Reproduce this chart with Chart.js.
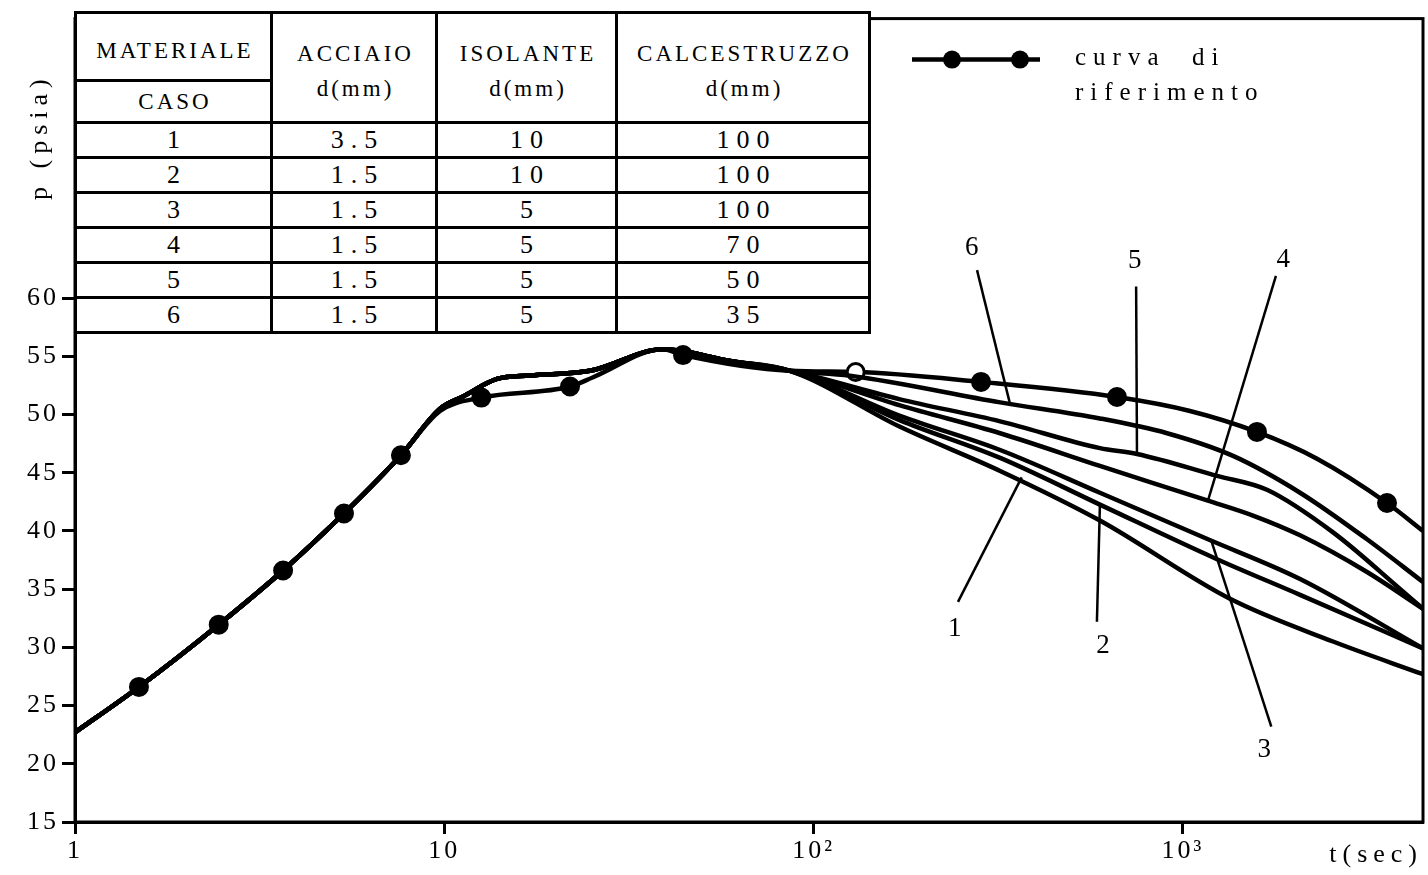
<!DOCTYPE html>
<html>
<head>
<meta charset="utf-8">
<script src="https://cdn.jsdelivr.net/npm/chart.js@4.4.1/dist/chart.umd.min.js"></script>
<style>
  body { margin: 0; background: #fff; }
  #wrap { position: relative; width: 1428px; height: 875px; }
  #caseTable {
    position: absolute; left: 74px; top: 11px;
    border-collapse: collapse; table-layout: fixed; background: #fff;
    font-family: "Liberation Serif", "DejaVu Serif", serif; color: #000;
  }
  #caseTable td {
    border: 3px solid #000; padding: 0 0 0 7px; text-align: center; vertical-align: middle;
    font-size: 26px; letter-spacing: 7px; line-height: 1; overflow: hidden;
  }
  #caseTable td.head { font-size: 23px; letter-spacing: 3px; padding-left: 3px; }
  #caseTable td.head2 { vertical-align: top; padding-top: 22px; line-height: 35px; }
</style>
</head>
<body>
<div id="wrap">
  <canvas id="myChart"></canvas>
  <table id="caseTable"></table>
</div>
<script>
// shared part of every curve (t in sec, p in psia)
const sharedT = [1, 1.49, 2.45, 3.66, 5.35, 7.63, 9.74, 11.24, 13.89, 17.07, 24.8, 39.1, 59.4, 86.3];
const sharedP = [22.7, 26.6, 31.95, 36.6, 41.5, 46.5, 50.5, 51.55, 53.05, 53.35, 53.75, 55.6, 54.6, 53.75];

// reference curve (with markers)
const refT = [1, 1.49, 2.45, 3.66, 5.35, 7.63, 9.74, 12.6, 21.9, 25.3, 39.1, 44.3, 86.3, 130, 284, 663, 1045, 1587, 2307, 3570, 4468];
const refP = [22.7, 26.6, 31.95, 36.6, 41.5, 46.5, 50.3, 51.45, 52.4, 53.2, 55.6, 55.1, 53.75, 53.65, 52.8, 51.5, 50.3, 48.5, 46.2, 42.4, 40.0];
const refMarked = [0, 1, 1, 1, 1, 1, 0, 1, 1, 0, 0, 1, 0, 1, 1, 1, 0, 1, 0, 1, 0];
const refOpen = [0, 0, 0, 0, 0, 0, 0, 0, 0, 0, 0, 0, 0, 1, 0, 0, 0, 0, 0, 0, 0];

// tails of the six cases after t = 86 s
const case1T = [171.4, 320, 596, 1341, 2550, 4468];
const case1P = [48.94, 45.15, 40.89, 34.17, 30.5, 27.69];
const case2T = [171.4, 320, 596, 1237, 2076, 4468];
const case2P = [49.5, 46.27, 42.26, 37.57, 34.51, 29.91];
const case3T = [171.4, 320, 596, 1169, 2076, 4468];
const case3P = [49.88, 46.95, 43.28, 39.28, 35.87, 29.91];
const case4T = [171.4, 320, 596, 1169, 1548, 2076, 3151, 4468];
const case4P = [50.78, 48.39, 45.58, 42.6, 41.32, 39.62, 36.47, 33.31];
const case5T = [171.4, 320, 596, 751, 1237, 1689, 2550, 3871, 4468];
const case5P = [51.3, 49.41, 47.11, 46.61, 44.73, 43.53, 39.87, 35.02, 33.31];
const case6T = [125.5, 320, 596, 906, 1367, 2076, 3151, 4468];
const case6P = [53.33, 51.04, 49.66, 48.39, 46.44, 43.28, 39.28, 35.61];

// table of the cases
const tableHeads = [['MATERIALE', 'CASO'], ['ACCIAIO', 'd(mm)'], ['ISOLANTE', 'd(mm)'], ['CALCESTRUZZO', 'd(mm)']];
const caseIds = ['1', '2', '3', '4', '5', '6'];
const steelMm = ['3.5', '1.5', '1.5', '1.5', '1.5', '1.5'];
const insulationMm = ['10', '10', '5', '5', '5', '5'];
const concreteMm = ['100', '100', '100', '70', '50', '35'];

// axes
const xTickValues = [1, 10, 100, 1000];
const xTickLabels = ['1', '10', '10²', '10³'];
const yTickValues = [15, 20, 25, 30, 35, 40, 45, 50, 55, 60];

// curve labels with leader lines (data coordinates)
const noteLabels = ['1', '2', '3', '4', '5', '6'];
const noteTextT = [241, 608, 1660, 1870, 741, 268];
const noteTextP = [31.6, 30.1, 21.2, 63.3, 63.2, 64.3];
const noteFromT = [246, 585, 1735, 1786, 747, 277];
const noteFromP = [33.9, 32.2, 23.2, 61.9, 61.0, 62.4];
const noteToT = [366, 596, 1190, 1169, 751, 340];
const noteToP = [44.6, 42.26, 39.3, 42.6, 46.6, 50.95];

const SERIF = '"Liberation Serif", "DejaVu Serif", serif';

// build the table
const tbl = document.getElementById('caseTable');
const colWidths = [196, 165, 180, 253];
const cg = document.createElement('colgroup');
colWidths.forEach(w => { const c = document.createElement('col'); c.style.width = w + 'px'; cg.appendChild(c); });
tbl.appendChild(cg);
let tr = tbl.insertRow();
tr.style.height = '68px';
let td = tr.insertCell(); td.className = 'head'; td.textContent = tableHeads[0][0]; td.style.paddingTop = '8px';
for (let k = 1; k < 4; k++) {
  td = tr.insertCell(); td.className = 'head head2'; td.rowSpan = 2;
  td.innerHTML = tableHeads[k][0] + '<br>' + tableHeads[k][1];
}
tr = tbl.insertRow(); tr.style.height = '42px';
td = tr.insertCell(); td.className = 'head'; td.textContent = tableHeads[0][1];
caseIds.forEach((id, i) => {
  const row = tbl.insertRow(); row.style.height = '35px';
  [id, steelMm[i], insulationMm[i], concreteMm[i]].forEach(v => { row.insertCell().textContent = v; });
});

const toPoints = (ts, ps) => ts.map((t, i) => ({ x: t, y: ps[i] }));
const lineStyle = { borderColor: '#000', borderWidth: 4.5, pointRadius: 0, cubicInterpolationMode: 'monotone', fill: false };

const caseTails = [[case1T, case1P], [case2T, case2P], [case3T, case3P], [case4T, case4P], [case5T, case5P], [case6T, case6P]];
const datasets = caseTails.map(([ts, ps], i) => Object.assign({
  label: 'caso ' + caseIds[i],
  data: toPoints(sharedT.concat(ts), sharedP.concat(ps))
}, lineStyle));
datasets.push(Object.assign({}, lineStyle, {
  label: 'curva di riferimento',
  data: toPoints(refT, refP),
  pointRadius: refMarked.map(m => m ? 8.5 : 0),
  pointBackgroundColor: refOpen.map(o => o ? '#fff' : '#000'),
  pointBorderColor: '#000',
  pointBorderWidth: 3
}));

// letter-spaced tick labels, like the typewritten original
const spacingPlugin = {
  id: 'spacing',
  beforeDraw(chart) { chart.ctx.letterSpacing = '3px'; },
  afterDatasetsDraw(chart) { chart.ctx.letterSpacing = '0px'; }
};

// frame, legend, labels and axis titles
const decorPlugin = {
  id: 'decor',
  afterDraw(chart) {
    const { ctx, chartArea: a, scales: { x, y } } = chart;
    ctx.save();
    ctx.strokeStyle = '#000';
    ctx.fillStyle = '#000';
    ctx.lineWidth = 3;
    ctx.strokeRect(a.left, a.top, a.right - a.left, a.bottom - a.top);

    // leader lines and case numbers
    ctx.lineWidth = 2.5;
    ctx.font = '27px ' + SERIF;
    ctx.textAlign = 'center';
    ctx.textBaseline = 'middle';
    noteLabels.forEach((lab, i) => {
      ctx.beginPath();
      ctx.moveTo(x.getPixelForValue(noteFromT[i]), y.getPixelForValue(noteFromP[i]));
      ctx.lineTo(x.getPixelForValue(noteToT[i]), y.getPixelForValue(noteToP[i]));
      ctx.stroke();
      ctx.fillText(lab, x.getPixelForValue(noteTextT[i]), y.getPixelForValue(noteTextP[i]));
    });

    // legend
    const ly = a.top + 41;
    ctx.lineWidth = 4.5;
    ctx.beginPath();
    ctx.moveTo(912, ly); ctx.lineTo(1040, ly);
    ctx.stroke();
    [952, 1020].forEach(px => { ctx.beginPath(); ctx.arc(px, ly, 9, 0, Math.PI * 2); ctx.fill(); });
    ctx.textAlign = 'left';
    ctx.textBaseline = 'alphabetic';
    ctx.font = '25px ' + SERIF;
    ctx.letterSpacing = '7px';
    ctx.fillText('curva  di', 1075, a.top + 46);
    ctx.fillText('riferimento', 1075, a.top + 81);

    // axis titles
    ctx.letterSpacing = '6px';
    ctx.font = '26px ' + SERIF;
    ctx.textAlign = 'right';
    ctx.fillText('t(sec)', a.right, a.bottom + 40);
    ctx.translate(a.left - 28, a.top + 118);
    ctx.rotate(-Math.PI / 2);
    ctx.textAlign = 'center';
    ctx.fillText('p (psia)', 0, 0);
    ctx.restore();
  }
};

const ctx = document.getElementById('myChart').getContext('2d');
const tickFont = { family: SERIF, size: 26 };
new Chart(ctx, {
  type: 'line',
  data: { datasets },
  options: {
    responsive: true,
    maintainAspectRatio: false,
    animation: false,
    layout: { padding: { top: 12, right: 5, left: 0, bottom: 0 } },
    plugins: { legend: { display: false }, tooltip: { enabled: false } },
    scales: {
      x: {
        type: 'logarithmic', min: 1, max: 4468,
        afterBuildTicks: s => { s.ticks = xTickValues.map(v => ({ value: v })); },
        afterFit: s => { s.height = 53; },
        ticks: { callback: (v, i) => xTickLabels[i], font: tickFont, color: '#000', padding: 2, maxRotation: 0, autoSkip: false },
        grid: { drawOnChartArea: false, tickLength: 12, tickWidth: 3, tickColor: '#000' },
        border: { color: '#000', width: 3 }
      },
      y: {
        min: 15, max: 84,
        afterBuildTicks: s => { s.ticks = yTickValues.map(v => ({ value: v })); },
        afterFit: s => { s.width = 75; },
        ticks: { font: tickFont, color: '#000', padding: 3 },
        grid: { drawOnChartArea: false, tickLength: 13, tickWidth: 3, tickColor: '#000' },
        border: { color: '#000', width: 3 }
      }
    }
  },
  plugins: [spacingPlugin, decorPlugin]
});
</script>
</body>
</html>
